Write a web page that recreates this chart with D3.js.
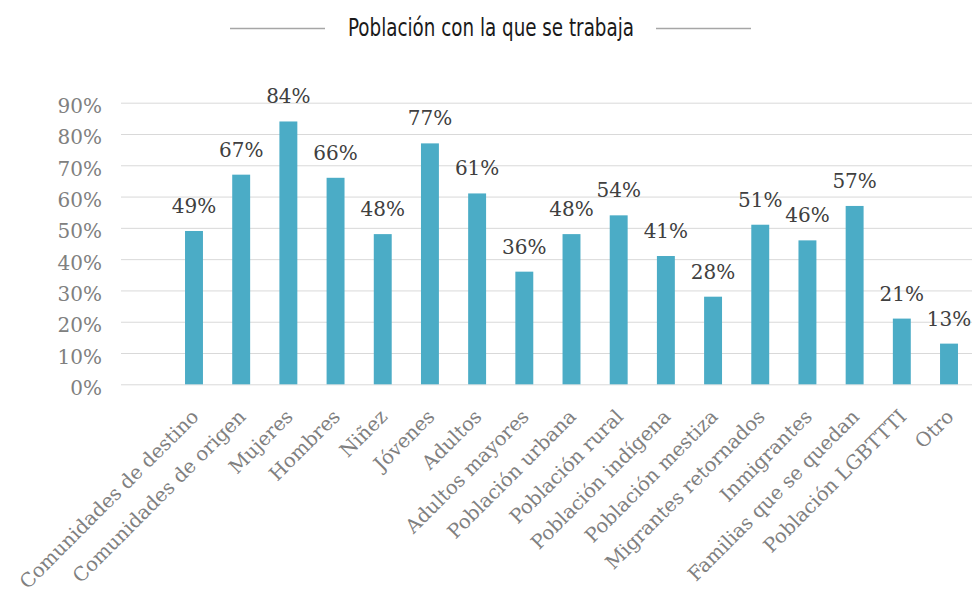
<!DOCTYPE html>
<html>
<head>
<meta charset="utf-8">
<script src="https://cdn.jsdelivr.net/npm/d3@7"></script>
<style>
  body { margin: 0; background: #fff; }
  svg { display: block; }
</style>
</head>
<body>
<div id="vis"></div>
<script>
const categories = ['Comunidades de destino', 'Comunidades de origen', 'Mujeres', 'Hombres', 'Niñez',
  'Jóvenes', 'Adultos', 'Adultos mayores', 'Población urbana', 'Población rural', 'Población indígena',
  'Población mestiza', 'Migrantes retornados', 'Inmigrantes', 'Familias que se quedan',
  'Población LGBTTTI', 'Otro']
const values = [0.49, 0.67, 0.84, 0.66, 0.48, 0.77, 0.61, 0.36, 0.48, 0.54, 0.41, 0.28, 0.51, 0.46, 0.57, 0.21, 0.13]
const yTicks = [0, 0.1, 0.2, 0.3, 0.4, 0.5, 0.6, 0.7, 0.8, 0.9]
const title = 'Población con la que se trabaja'

const W = 974, H = 595
const serif = '"DejaVu Serif", "Liberation Serif", serif'

const svg = d3.select('#vis')
    .append('svg')
    .attr('width', W)
    .attr('height', H)

// scales
const xScale = d3.scaleBand()
    .domain(categories)
    .range([170.4, 972.6])
    .paddingInner(0.62)
    .paddingOuter(0.31)

const yScale = d3.scaleLinear()
    .domain([0, 0.9])
    .range([384.3, 102.7])

// title with side rules
svg.append('text')
    .attr('x', 491)
    .attr('y', 36)
    .attr('text-anchor', 'middle')
    .attr('textLength', 286)
    .attr('lengthAdjust', 'spacingAndGlyphs')
    .style('font-family', '"Liberation Sans Narrow", "DejaVu Sans Condensed", sans-serif')
    .style('font-size', '24px')
    .style('fill', '#1a1a1a')
    .text(title)

svg.selectAll('.title-rule')
    .data([[230, 325], [656, 751]])
    .join('line')
    .attr('class', 'title-rule')
    .attr('x1', d => d[0])
    .attr('x2', d => d[1])
    .attr('y1', 28.5)
    .attr('y2', 28.5)
    .style('stroke', '#a6a6a6')
    .style('stroke-width', 1.5)

// y axis + grid
const yAxis = d3.axisLeft(yScale)
    .tickValues(yTicks)
    .tickFormat(d3.format('.0%'))
    .tickSize(-(972 - 121))
    .tickSizeOuter(0)
    .tickPadding(19)

const yG = svg.append('g')
    .attr('class', 'axis y-axis')
    .attr('transform', 'translate(121,0)')
    .call(yAxis)

yG.select('.domain').remove()
yG.selectAll('line')
    .style('stroke', '#d9d9d9')
    .style('stroke-width', 1)
yG.selectAll('text')
    .attr('dy', '0.5em')
    .style('font-family', serif)
    .style('font-size', '20px')
    .style('fill', '#808080')

// bars
svg.selectAll('.bar')
    .data(values)
    .join('rect')
    .attr('class', 'bar')
    .attr('x', (d, i) => xScale(categories[i]))
    .attr('y', d => yScale(d))
    .attr('width', xScale.bandwidth())
    .attr('height', d => yScale(0) - yScale(d))
    .style('fill', '#4bacc6')

// value labels
svg.selectAll('.value-label')
    .data(values)
    .join('text')
    .attr('class', 'value-label')
    .attr('x', (d, i) => xScale(categories[i]) + xScale.bandwidth() / 2)
    .attr('y', d => yScale(d) - 18)
    .attr('text-anchor', 'middle')
    .style('font-family', serif)
    .style('font-size', '20px')
    .style('fill', '#404040')
    .text(d => d3.format('.0%')(d))

// category labels, rotated
svg.selectAll('.cat-label')
    .data(categories)
    .join('text')
    .attr('class', 'cat-label')
    .attr('transform', d => `translate(${xScale(d) + xScale.bandwidth() / 2 + 1},413) rotate(-45)`)
    .attr('text-anchor', 'end')
    .attr('dy', '0.35em')
    .style('font-family', serif)
    .style('font-size', '19.5px')
    .style('fill', '#808080')
    .text(d => d)
</script>
</body>
</html>
